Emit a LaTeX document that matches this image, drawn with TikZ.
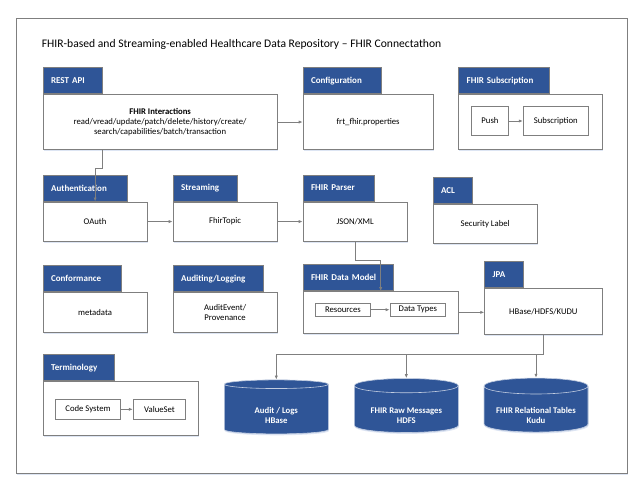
\documentclass[tikz,border=0pt]{standalone}
\usepackage{fontspec}
\setmainfont{Carlito}
\usetikzlibrary{arrows.meta,shapes.geometric,shadows,positioning}

\definecolor{tabblue}{HTML}{2F5597}
\definecolor{linegray}{HTML}{7F7F7F}
\definecolor{shadowblue}{HTML}{DDE5F3}

\tikzset{
  shade/.style={drop shadow={shadow xshift=0.6pt,shadow yshift=-1.4pt,fill=shadowblue,opacity=1}},
  tab/.style={draw=linegray, line width=0.8pt, fill=tabblue, text=white,
    font=\bfseries\fontsize{9}{10}\selectfont, anchor=north west,
    minimum height=26pt, inner xsep=8pt, inner ysep=0pt, align=left},
  body/.style={draw=linegray, line width=0.8pt, fill=white, shade,
    font=\fontsize{8.7}{10}\selectfont, anchor=north west, align=center, inner sep=0pt},
  inbox/.style={draw=linegray, line width=0.8pt, fill=white,
    font=\fontsize{8.7}{10}\selectfont, inner sep=0pt},
  db/.style={cylinder, shape border rotate=90, aspect=0.2, fill=tabblue,
    draw=white!70!tabblue, line width=0.6pt, shade, text=white,
    font=\bfseries\fontsize{8.7}{10}\selectfont, align=center, text height=28pt,
    minimum width=104pt, minimum height=54pt, inner sep=0pt},
  arr/.style={draw=linegray, line width=0.8pt, -{Latex[length=4pt,width=3.2pt]}},
}

\begin{document}
\begin{tikzpicture}[x=1pt,y=-1pt]
  \useasboundingbox (0,0) rectangle (643,488);
  % outer frame and title
  \draw[draw=linegray, line width=0.9pt, fill=white, shade] (16.7,18.3) rectangle (627,473.3);
  \node[anchor=west, font=\fontsize{11.6}{13}\selectfont, inner sep=0pt] (title) at (41.7,44)
    {FHIR-based and Streaming-enabled Healthcare Data Repository -- FHIR Connectathon};

  % first row
  \node[tab, text width=43pt] (resttab) at (42.7,67.3) {REST API};
  \node[body, minimum width=234pt, minimum height=55pt] (restbody) at (resttab.south west)
    {\textbf{FHIR Interactions}\\read/vread/update/patch/delete/history/create/\\search/capabilities/batch/transaction};
  \node[tab, text width=62pt] (conftab) at (302.7,67.3) {Configuration};
  \node[body, minimum width=130pt, minimum height=55pt] (confbody) at (conftab.south west)
    {frt\_fhir.properties};
  \node[tab, text width=75pt] (subtab) at (458.3,67.3) {FHIR Subscription};
  \node[body, minimum width=143.4pt, minimum height=55pt] (subbody) at (subtab.south west) {};
  \node[inbox, minimum width=36.6pt, minimum height=28.6pt] (push) at (490,121) {Push};
  \node[inbox, minimum width=65pt, minimum height=28.6pt] (subscr) at (555.8,121) {Subscription};

  % second row
  \node[tab, text width=68.6pt] (authtab) at (42.7,174.7) {Authentication};
  \node[body, minimum width=104pt, minimum height=39.3pt] (authbody) at (authtab.south west) {OAuth};
  \node[tab, text width=48.6pt] (streamtab) at (172.7,174.7) {Streaming};
  \node[body, minimum width=104pt, minimum height=39.3pt] (streambody) at (streamtab.south west) {FhirTopic};
  \node[tab, text width=55.6pt] (parsetab) at (302.7,174.7) {FHIR Parser};
  \node[body, minimum width=104pt, minimum height=39.3pt] (parsebody) at (parsetab.south west) {JSON/XML};
  \node[tab, text width=23pt] (acltab) at (432.7,177.3) {ACL};
  \node[body, minimum width=104pt, minimum height=39pt] (aclbody) at (acltab.south west) {Security Label};

  % third row
  \node[tab, text width=62pt] (conftab2) at (42.7,265.3) {Conformance};
  \node[body, minimum width=104pt, minimum height=39.7pt] (metabody) at (conftab2.south west) {metadata};
  \node[tab, text width=74.6pt] (audittab) at (172.7,265.3) {Auditing/Logging};
  \node[body, minimum width=104pt, minimum height=39.7pt] (auditbody) at (audittab.south west)
    {AuditEvent/\\Provenance};
  \node[tab, text width=74.6pt] (modeltab) at (302.7,264.3) {FHIR Data Model};
  \node[body, minimum width=155.6pt, minimum height=41.7pt] (modelbody) at (modeltab.south west) {};
  \node[inbox, minimum width=55.7pt, minimum height=12.7pt] (res) at (342.9,309.7) {Resources};
  \node[inbox, minimum width=55.7pt, minimum height=12.7pt] (dtypes) at (417.9,309.7) {Data Types};
  \node[tab, text width=23pt] (jpatab) at (484.3,261) {JPA};
  \node[body, minimum width=117.4pt, minimum height=46.3pt] (jpabody) at (jpatab.south west) {HBase/HDFS/KUDU};

  % terminology and storage
  \node[tab, text width=55.6pt] (termtab) at (42.7,354.3) {Terminology};
  \node[body, minimum width=155.6pt, minimum height=54.3pt] (termbody) at (termtab.south west) {};
  \node[inbox, minimum width=65.4pt, minimum height=20pt] (codesys) at (88,409.3) {Code System};
  \node[inbox, minimum width=52.4pt, minimum height=20pt] (valset) at (159.5,409.3) {ValueSet};
  \node[db] (hbase) at (276.3,409.2) {Audit / Logs\\HBase};
  \node[db] (hdfs) at (406.3,409.2) {FHIR Raw Messages\\HDFS};
  \node[db] (kudu) at (536,409.2) {FHIR Relational Tables\\Kudu};

  % connectors
  \draw[arr] (restbody) -- (confbody);
  \draw[arr] (push) -- (subscr);
  \draw[arr] (resttab.east |- restbody.south) -- ++(0,18.7) -| (authbody.north);
  \draw[arr] (authbody) -- (streambody);
  \draw[arr] (streambody) -- (parsebody);
  \draw[arr] (parsebody.south) -- ++(0,19) -| ([xshift=78pt]modelbody.north west);
  \draw[arr] (res) -- (dtypes);
  \draw[arr] (modelbody.east) -- (modelbody.east -| jpabody.west);
  \foreach \c in {hbase,hdfs,kudu}{
    \draw[arr] (jpabody.south) -- ++(0,19.4) -| (\c.north);
  }
  \draw[arr] (codesys) -- (valset);
\end{tikzpicture}
\end{document}
